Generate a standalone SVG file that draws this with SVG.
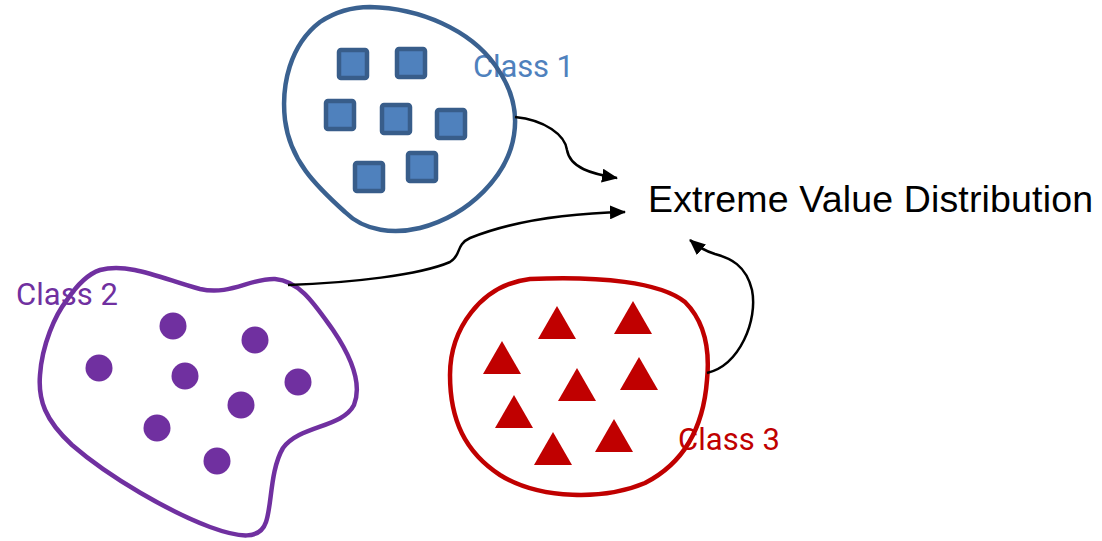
<svg xmlns="http://www.w3.org/2000/svg" xmlns:xlink="http://www.w3.org/1999/xlink" width="1102" height="541" viewBox="0 0 1102 541">
  <style>
    .blob { fill: none; stroke-width: 4.5; stroke-linejoin: round; }
    .sq { fill: #4f81bd; stroke: #385d8a; stroke-width: 4.5; }
    .dot { fill: #7030a0; }
    .tri { fill: #c00000; }
    .lbl { font-family: Roboto, "Liberation Sans", sans-serif; font-size: 31px; }
    .link { fill: none; stroke: #000; stroke-width: 2.5; }
  </style>
  <defs>
    <marker id="arrow" viewBox="0 0 16 14" refX="15" refY="7" markerWidth="16" markerHeight="14" orient="auto" markerUnits="userSpaceOnUse">
      <path d="M0,0 L16,7 L0,14 Z" fill="#000"/>
    </marker>
    <rect id="square" x="-14" y="-14" width="28" height="28" rx="2"/>
    <path id="triangle" d="M0,0 L19,33 L-19,33 Z"/>
  </defs>

  <!-- Class 1: squares -->
  <g id="class1">
    <text class="lbl" x="473" y="77" fill="#4f81bd" textLength="101">Class 1</text>
    <path class="blob" stroke="#3a6190" d="M370,7 C420,8 470,30 495,65 C512,88 518,110 514,135 C508,175 470,215 420,228 C395,234 365,232 345,212 C315,185 290,160 285,120 C281,85 290,45 320,22 C335,12 352,7 370,7 Z"/>
    <use href="#square" class="sq" x="353" y="64"/>
    <use href="#square" class="sq" x="411" y="63"/>
    <use href="#square" class="sq" x="340" y="115"/>
    <use href="#square" class="sq" x="396" y="119"/>
    <use href="#square" class="sq" x="451" y="124"/>
    <use href="#square" class="sq" x="369" y="177"/>
    <use href="#square" class="sq" x="422" y="167"/>
  </g>

  <!-- Class 2: dots -->
  <g id="class2">
    <text class="lbl" x="16" y="305" fill="#7030a0" textLength="102">Class 2</text>
    <path class="blob" stroke="#7030a0" d="M100,270 C130,262 165,280 200,289 C230,296 250,278 275,279 C300,281 315,305 333,330 C352,358 362,385 354,405 C342,428 300,425 283,448 C270,470 272,505 266,522 C260,540 240,538 210,527 C170,512 110,478 72,445 C45,420 38,400 40,375 C42,345 55,315 67,300 C77,285 88,274 100,270 Z"/>
    <circle class="dot" cx="173" cy="326" r="13.5"/>
    <circle class="dot" cx="255" cy="340" r="13.5"/>
    <circle class="dot" cx="99" cy="368" r="13.5"/>
    <circle class="dot" cx="185" cy="376" r="13.5"/>
    <circle class="dot" cx="298" cy="382" r="13.5"/>
    <circle class="dot" cx="241" cy="405" r="13.5"/>
    <circle class="dot" cx="157" cy="428" r="13.5"/>
    <circle class="dot" cx="217" cy="461" r="13.5"/>
  </g>

  <!-- Class 3: triangles -->
  <g id="class3">
    <path class="blob" stroke="#c00000" d="M530,279 C600,276 660,282 685,302 C705,322 710,350 707,380 C704,420 690,460 645,483 C605,500 540,500 500,475 C465,452 450,420 450,375 C450,330 480,285 530,279 Z"/>
    <use href="#triangle" class="tri" x="557" y="306"/>
    <use href="#triangle" class="tri" x="633" y="301"/>
    <use href="#triangle" class="tri" x="502" y="341"/>
    <use href="#triangle" class="tri" x="577" y="368"/>
    <use href="#triangle" class="tri" x="639" y="357"/>
    <use href="#triangle" class="tri" x="514" y="395"/>
    <use href="#triangle" class="tri" x="614" y="419"/>
    <use href="#triangle" class="tri" x="553" y="432"/>
    <text class="lbl" x="678" y="450" fill="#c00000" textLength="102">Class 3</text>
  </g>

  <!-- Target label -->
  <g id="evd">
    <text x="648" y="212" font-family="'Liberation Sans', Arial, sans-serif" font-size="37.5" fill="#000" textLength="445">Extreme Value Distribution</text>
  </g>

  <!-- Connectors -->
  <g id="connectors">
    <path class="link" marker-end="url(#arrow)" d="M515,117 C545,120 565,135 567,150 C570,168 592,174 617,178"/>
    <path class="link" marker-end="url(#arrow)" d="M288,285 C350,283 420,275 450,262 C462,255 455,245 470,238 C520,218 580,213 625,212"/>
    <path class="link" marker-end="url(#arrow)" d="M707,373 C740,365 758,320 752,290 C746,265 730,258 715,254 C705,251 697,246 690,240"/>
  </g>
</svg>
